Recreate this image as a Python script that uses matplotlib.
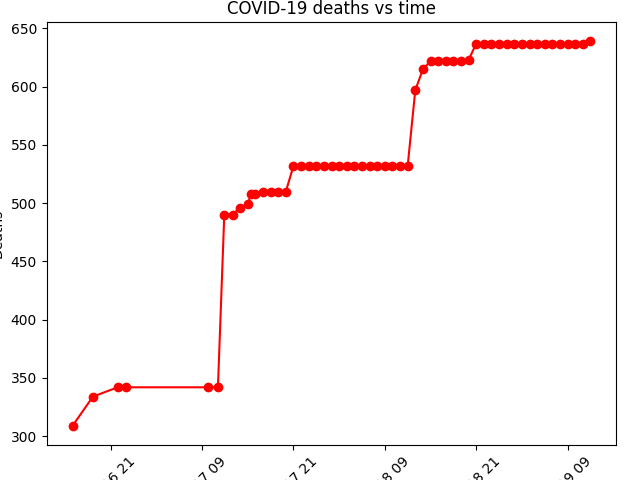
import pandas as pd
import matplotlib
matplotlib.use('Agg')
import matplotlib.pyplot as plt
import matplotlib.dates as mdates

# timestamps and cumulative deaths
times = [
    '2020-03-16 16:00', '2020-03-16 18:40', '2020-03-16 21:55', '2020-03-16 23:00',
    '2020-03-17 09:50', '2020-03-17 11:05', '2020-03-17 11:55', '2020-03-17 13:00',
    '2020-03-17 13:55', '2020-03-17 15:00', '2020-03-17 15:25', '2020-03-17 16:00',
    '2020-03-17 17:00', '2020-03-17 18:00', '2020-03-17 19:00', '2020-03-17 20:00',
    '2020-03-17 21:00', '2020-03-17 22:00', '2020-03-17 23:00', '2020-03-18 00:00',
    '2020-03-18 01:00', '2020-03-18 02:00', '2020-03-18 03:00', '2020-03-18 04:00',
    '2020-03-18 05:00', '2020-03-18 06:00', '2020-03-18 07:00', '2020-03-18 08:00',
    '2020-03-18 09:00', '2020-03-18 10:00', '2020-03-18 11:00', '2020-03-18 12:00',
    '2020-03-18 13:00', '2020-03-18 14:00', '2020-03-18 15:00', '2020-03-18 16:00',
    '2020-03-18 17:00', '2020-03-18 18:00', '2020-03-18 19:00', '2020-03-18 20:00',
    '2020-03-18 21:00', '2020-03-18 22:00', '2020-03-18 23:00', '2020-03-19 00:00',
    '2020-03-19 01:00', '2020-03-19 02:00', '2020-03-19 03:00', '2020-03-19 04:00',
    '2020-03-19 05:00', '2020-03-19 06:00', '2020-03-19 07:00', '2020-03-19 08:00',
    '2020-03-19 09:00', '2020-03-19 10:00', '2020-03-19 11:00', '2020-03-19 12:00',
]
deaths = [
    309, 334, 342, 342,
    342, 342, 490, 490,
    496, 499, 508, 508,
    510, 510, 510, 510,
    532, 532, 532, 532, 532, 532, 532, 532,
    532, 532, 532, 532, 532, 532, 532, 532,
    597, 615, 622, 622, 622, 622, 622, 623,
    637, 637, 637, 637, 637, 637, 637, 637,
    637, 637, 637, 637, 637, 637, 637, 639,
]

df = pd.DataFrame({'time': pd.to_datetime(times), 'deaths': deaths})

fig = plt.figure(figsize=(6.4, 4.8), dpi=100)
ax = fig.add_axes([0.073, 0.073, 0.89, 0.881])
ax.plot(df['time'], df['deaths'], 'ro-')
ax.set_title('COVID-19 deaths vs time')
ax.set_ylabel('Deaths')
ax.xaxis.set_major_locator(mdates.HourLocator(byhour=[9, 21]))
ax.xaxis.set_major_formatter(mdates.DateFormatter('%m-%d %H'))
plt.setp(ax.get_xticklabels(), rotation=45)

fig.savefig('out.png')
